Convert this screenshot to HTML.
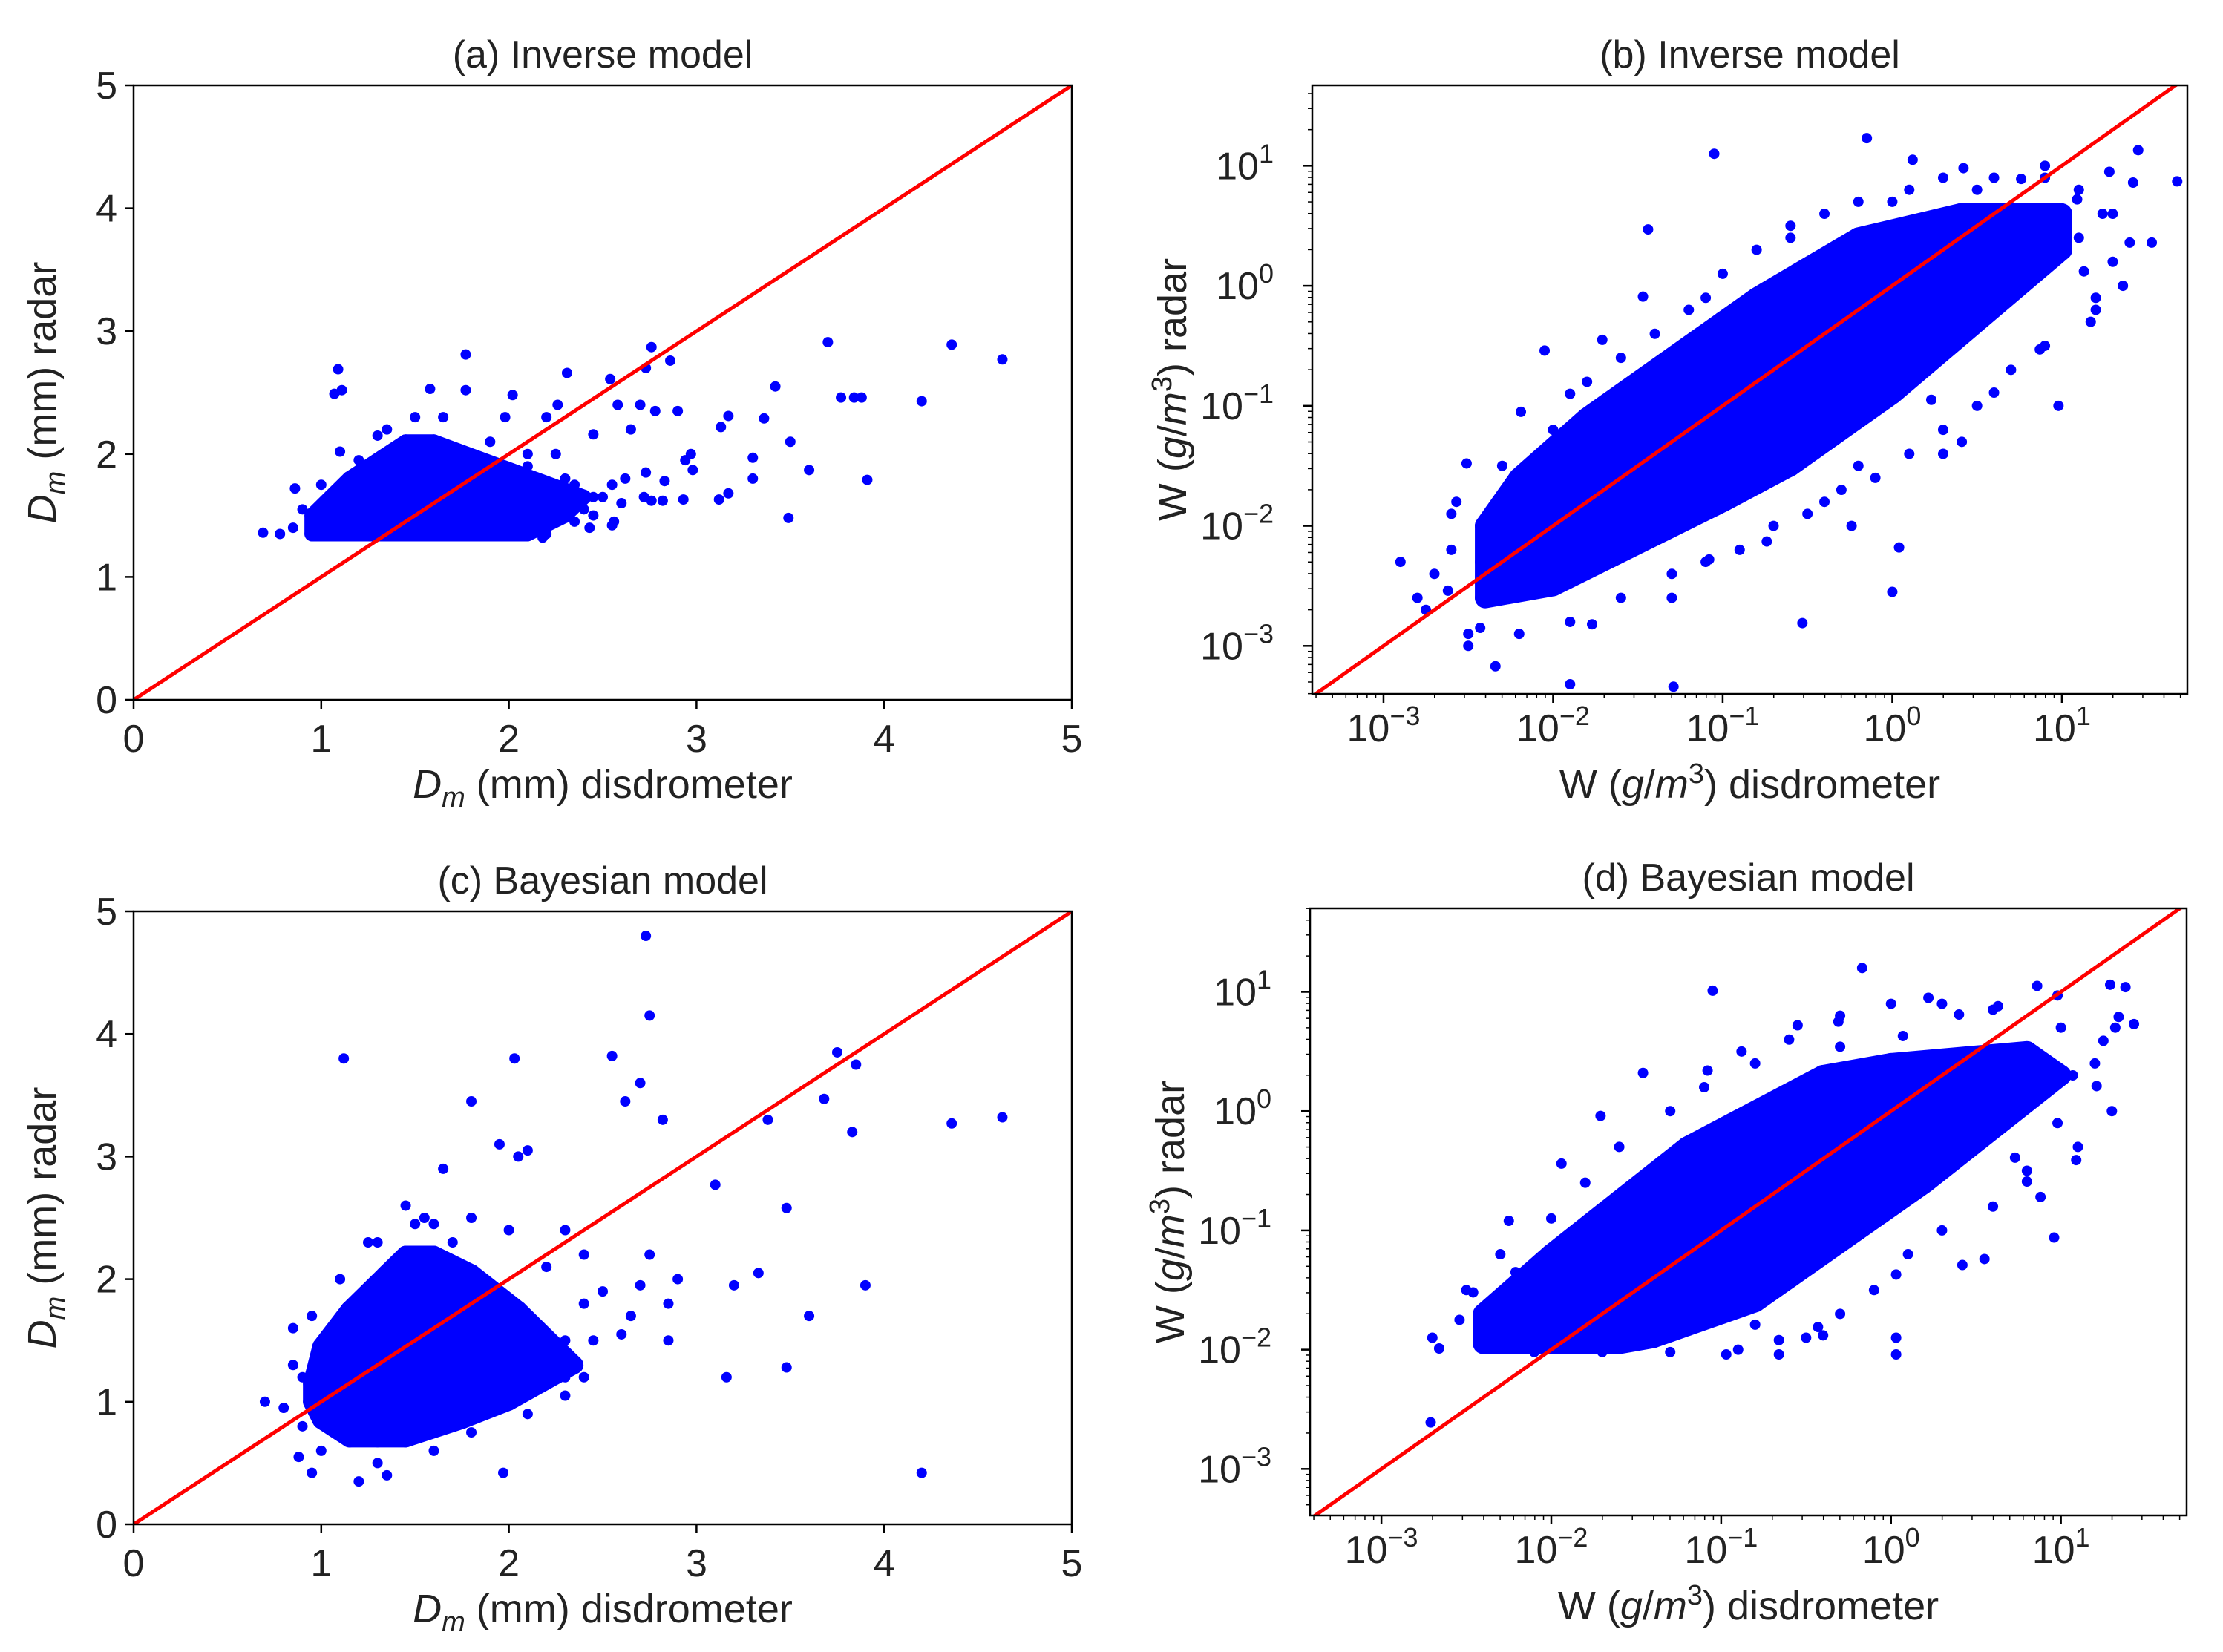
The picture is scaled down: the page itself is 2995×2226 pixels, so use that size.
<!DOCTYPE html>
<html><head><meta charset="utf-8"><style>
html,body{margin:0;padding:0;background:#fff;}
svg{display:block;font-family:"Liberation Sans","DejaVu Sans",sans-serif;}
</style></head><body>
<svg id="fig" width="2995" height="2226" viewBox="0 0 2995 2226" xmlns="http://www.w3.org/2000/svg"></svg>
<script>
// ---------- Panel (a) data (Dm mm) ----------
const aCoreX=[0.95,1.1,1.25,1.4,1.55,1.7,1.85,2.0,2.1, 0.95,1.1,1.25,1.4,1.55,1.7,1.85,2.0,2.15,2.3, 1.05,1.2,1.35,1.5,1.65,1.8,1.95,2.1,2.3,2.4, 1.15,1.3,1.45,1.6,1.75,1.9, 1.3,1.45,1.6,1.75, 1.45,1.6];
const aCoreY=[1.35,1.35,1.35,1.35,1.35,1.35,1.35,1.35,1.35, 1.5,1.5,1.5,1.5,1.5,1.5,1.5,1.5,1.5,1.5, 1.65,1.65,1.65,1.65,1.65,1.65,1.65,1.65,1.65,1.65, 1.8,1.8,1.8,1.8,1.8,1.8, 1.95,1.95,1.95,1.95, 2.1,2.1];
const aX=[1.09,1.07,1.11,1.77,1.58,1.77,2.02,2.31,2.76,2.73,2.86,2.54,2.58,2.70,2.78,2.90,2.45,2.65,2.26,2.20,3.13,3.17,3.36,3.42,3.70,4.36,4.63,3.77,3.84,3.88,4.20,3.50,3.60,3.91,3.49,3.30,3.30,3.17,3.12,2.94,2.97,2.98,2.93,2.72,2.76,2.82,2.83,2.73,2.62,2.55,2.56,2.55,2.6,2.45,2.4,0.69,0.78,0.86,0.85,1.10,1.30,1.98,2.18,2.10,2.25,2.35,2.35,2.43,0.9,1.0,1.2,1.35,1.5,1.65,1.9,2.1,2.3,2.5,2.45,2.2];
const aY=[2.69,2.49,2.52,2.81,2.53,2.52,2.48,2.66,2.87,2.70,2.76,2.61,2.40,2.40,2.35,2.35,2.16,2.20,2.40,2.30,2.22,2.31,2.29,2.55,2.91,2.89,2.77,2.46,2.46,2.46,2.43,2.10,1.87,1.79,1.48,1.97,1.80,1.68,1.63,1.95,2.00,1.87,1.63,1.65,1.62,1.62,1.78,1.85,1.80,1.75,1.45,1.42,1.6,1.65,1.55,1.36,1.35,1.72,1.40,2.02,2.15,2.30,1.32,1.9,2.0,1.75,1.45,1.40,1.55,1.75,1.95,2.2,2.3,2.3,2.1,2.0,1.8,1.65,1.5,1.35];
// ---------- Panel (c) data ----------
const cCoreX=[1.15,1.3,1.45, 1.0,1.15,1.3,1.45,1.6,1.75, 0.95,1.1,1.25,1.4,1.55,1.7,1.85,2.0, 0.95,1.1,1.25,1.4,1.55,1.7,1.85,2.0,2.15, 1.0,1.15,1.3,1.45,1.6,1.75,1.9,2.05,2.2,2.35, 1.0,1.15,1.3,1.45,1.6,1.75,1.9,2.05,2.2, 1.1,1.25,1.4,1.55,1.7,1.85,2.0,2.15, 1.15,1.3,1.45,1.6,1.75,1.9,2.05, 1.3,1.45,1.6,1.75,1.9, 1.35,1.5,1.65,1.8, 1.45,1.6];
const cCoreY=[0.7,0.7,0.7, 0.85,0.85,0.85,0.85,0.85,0.85, 1.0,1.0,1.0,1.0,1.0,1.0,1.0,1.0, 1.15,1.15,1.15,1.15,1.15,1.15,1.15,1.15,1.15, 1.3,1.3,1.3,1.3,1.3,1.3,1.3,1.3,1.3,1.3, 1.45,1.45,1.45,1.45,1.45,1.45,1.45,1.45,1.45, 1.6,1.6,1.6,1.6,1.6,1.6,1.6,1.6, 1.75,1.75,1.75,1.75,1.75,1.75,1.75, 1.9,1.9,1.9,1.9,1.9, 2.05,2.05,2.05,2.05, 2.2,2.2];
const cX=[2.73,2.75,1.12,2.03,2.55,2.7,1.8,2.62,2.82,3.75,3.85,3.68,3.83,4.36,4.63,3.38,3.1,3.48,3.33,3.2,3.9,3.6,3.48,3.16,4.2,1.97,2.7,2.75,2.9,2.85,2.6,2.85,2.65,2.05,2.1,1.95,1.65,0.85,0.7,0.8,0.88,0.95,1.2,1.35,2.3,2.4,2.5,2.3,1.55,1.45,1.6,1.7,1.3,2.3,2.4,0.9,0.85,0.9,1.0,1.3,1.6,1.8,2.1,2.3,2.45,2.4,2.2,2.0,1.8,1.5,1.25,1.1,0.95];
const cY=[4.8,4.15,3.8,3.8,3.82,3.6,3.45,3.45,3.3,3.85,3.75,3.47,3.2,3.27,3.32,3.3,2.77,2.58,2.05,1.95,1.95,1.7,1.28,1.2,0.42,0.42,1.95,2.2,2.0,1.8,1.55,1.5,1.7,3.0,3.05,3.1,2.9,1.6,1.0,0.95,0.55,0.42,0.35,0.4,2.4,2.2,1.9,1.5,2.5,2.6,2.45,2.3,2.3,1.05,1.2,1.2,1.3,0.8,0.6,0.5,0.6,0.75,0.9,1.2,1.5,1.8,2.1,2.4,2.5,2.45,2.3,2.0,1.7];
// ---------- Panel (b) data (log10 W) ----------
const bCoreX=[-2.4,-2.4,-2.4, -2.2,-2.2,-2.2,-2.2, -2.0,-2.0,-2.0,-2.0, -1.8,-1.8,-1.8,-1.8,-1.8, -1.6,-1.6,-1.6,-1.6,-1.6, -1.4,-1.4,-1.4,-1.4,-1.4, -1.2,-1.2,-1.2,-1.2,-1.2, -1.0,-1.0,-1.0,-1.0,-1.0,-1.0, -0.8,-0.8,-0.8,-0.8,-0.8,-0.8, -0.6,-0.6,-0.6,-0.6,-0.6,-0.6, -0.4,-0.4,-0.4,-0.4,-0.4,-0.4, -0.2,-0.2,-0.2,-0.2,-0.2,-0.2, 0,0,0,0,0, 0.2,0.2,0.2,0.2, 0.4,0.4,0.4,0.4, 0.6,0.6,0.6, 0.8,0.8, 1.0,1.0];
const bCoreY=[-2.6,-2.3,-2.0, -2.5,-2.2,-1.9,-1.6, -2.5,-2.2,-1.9,-1.6, -2.3,-2.0,-1.7,-1.4,-1.1, -2.2,-1.9,-1.6,-1.3,-1.0, -2.0,-1.7,-1.4,-1.1,-0.8, -1.9,-1.6,-1.3,-1.0,-0.7, -1.8,-1.5,-1.2,-0.9,-0.6,-0.3, -1.6,-1.3,-1.0,-0.7,-0.4,-0.1, -1.5,-1.2,-0.9,-0.6,-0.3,0.0, -1.3,-1.0,-0.7,-0.4,-0.1,0.2, -1.1,-0.8,-0.5,-0.2,0.1,0.4, -0.9,-0.6,-0.3,0.0,0.3, -0.5,-0.2,0.1,0.4, -0.3,0.0,0.3,0.6, -0.1,0.2,0.5, 0.1,0.4, 0.3,0.6];
const bX=[-1.05,-0.15,0.12,-1.44,-1.47,-1.71,-2.05,-2.19,-2.51,-2.57,-2.62,-2.43,-2.34,-1.9,-1.29,-1.77,-1.08,-0.53,0.0,0.04,0.41,0.6,0.23,0.98,0.87,1.17,1.42,1.28,1.45,1.68,1.53,1.13,0.73,0.4,1.09,0.76,0.42,0.14,-0.66,1.4,1.24,-0.74,-1.52,-0.24,0.77,1.36,-2.7,-2.75,-2.5,-1.3,-0.4,0.3,-1.9,-1.1,-0.6,0.0,0.5,1.2,1.1,0.9,-0.2,
 -2.6,-2.6,-2.3,-2.0,-1.8,-1.6,-1.4,-1.2,-1.0,-0.8,-0.6,-0.4,-0.2,0.1,0.3,0.6,0.9,1.1,1.3,1.3,1.2,0.9,0.7,0.5,0.3,0.1,-0.1,-0.3,-0.5,-0.7,-0.9,-1.1,-1.3,-1.6,-1.9,-2.2,-2.5,-2.8,-2.9];
const bY=[1.1,1.23,1.05,0.47,-0.09,-0.45,-0.54,-1.05,-1.48,-1.8,-2.54,-2.85,-3.17,-3.32,-3.34,-2.82,-2.28,-2.81,-2.55,-2.18,-1.3,-0.89,-0.95,-1.0,-0.53,-0.3,0.86,0.95,1.13,0.87,0.36,0.12,0.42,0.6,0.72,0.89,0.98,0.12,-0.35,0.36,0.6,-2.13,-1.99,-2.0,0.0,0.0,-2.4,-2.7,-2.9,-2.6,-1.8,-1.4,-0.9,-0.1,0.5,0.7,0.8,-0.1,0.4,0.9,-1.5,
 -2.2,-1.9,-1.5,-1.2,-0.8,-0.6,-0.4,-0.2,0.1,0.3,0.4,0.6,0.7,0.8,0.9,0.9,1.0,0.8,0.6,0.2,-0.2,-0.5,-0.7,-1.0,-1.2,-1.4,-1.6,-1.7,-1.9,-2.0,-2.2,-2.3,-2.4,-2.6,-2.8,-2.9,-3.0,-2.6,-2.3];
// ---------- Panel (d) data ----------
const dCoreX=[-2.4,-2.4, -2.2,-2.2,-2.2, -2.0,-2.0,-2.0,-2.0, -1.8,-1.8,-1.8,-1.8, -1.6,-1.6,-1.6,-1.6,-1.6, -1.4,-1.4,-1.4,-1.4,-1.4, -1.2,-1.2,-1.2,-1.2,-1.2,-1.2, -1.0,-1.0,-1.0,-1.0,-1.0,-1.0, -0.8,-0.8,-0.8,-0.8,-0.8,-0.8, -0.6,-0.6,-0.6,-0.6,-0.6,-0.6, -0.4,-0.4,-0.4,-0.4,-0.4,-0.4, -0.2,-0.2,-0.2,-0.2,-0.2, 0,0,0,0,0, 0.2,0.2,0.2,0.2, 0.4,0.4,0.4, 0.6,0.6, 0.8,0.8, 1.0];
const dCoreY=[-1.95,-1.7, -1.95,-1.7,-1.45, -1.95,-1.7,-1.45,-1.2, -1.95,-1.65,-1.35,-1.05, -1.95,-1.65,-1.35,-1.05,-0.75, -1.9,-1.6,-1.3,-1.0,-0.7, -1.8,-1.5,-1.2,-0.9,-0.6,-0.3, -1.7,-1.4,-1.1,-0.8,-0.5,-0.2, -1.6,-1.3,-1.0,-0.7,-0.4,-0.1, -1.4,-1.1,-0.8,-0.5,-0.2,0.1, -1.2,-0.9,-0.6,-0.3,0.0,0.3, -1.0,-0.7,-0.4,-0.1,0.2, -0.8,-0.5,-0.2,0.1,0.4, -0.6,-0.3,0.0,0.3, -0.2,0.1,0.4, 0.0,0.3, 0.2,0.5, 0.3];
const dX=[-2.71,-2.66,-1.94,-1.71,-1.46,-1.05,-1.08,-0.88,-0.55,-0.31,-0.17,-0.3,0.07,0.22,0.4,0.63,0.86,0.98,1.29,1.38,1.43,1.32,1.25,1.21,1.09,0.88,0.96,0.55,0.42,0.03,0.03,0.03,-0.43,-0.4,-0.66,-0.66,-0.97,-0.8,0.8,0.73,0.61,-2.25,-2.21,-2.46,-2.54,-0.39,-0.14,0.28,0.98,1.07,1.34,
 -2.7,-2.5,-2.3,-2.0,-1.8,-1.6,-1.3,-1.1,-0.8,-0.6,-0.3,0.0,0.3,0.6,1.0,1.2,1.3,1.1,0.8,0.6,0.3,0.1,-0.1,-0.3,-0.5,-0.9,-1.3,-1.7,-2.1];
const dY=[-2.61,-1.99,-0.44,-0.04,0.32,1.01,0.34,0.5,0.72,0.75,1.2,0.54,0.63,0.95,0.81,0.88,1.05,0.97,1.06,1.04,0.73,0.7,0.59,0.21,-0.41,-0.72,-1.06,-1.24,-1.29,-1.37,-2.04,-1.9,-1.81,-1.88,-2.04,-1.92,-2.04,-1.79,-0.59,-0.39,-0.1,-0.92,-1.35,-1.52,-1.75,-0.06,0.3,0.25,-0.1,0.3,0.79,
 -1.9,-1.5,-1.2,-0.9,-0.6,-0.3,0.0,0.2,0.4,0.6,0.8,0.9,0.9,0.85,0.7,0.4,0.0,-0.3,-0.5,-0.8,-1.0,-1.2,-1.5,-1.7,-1.9,-2.0,-2.02,-2.02,-2.02];
// ---------- ticks ----------
const linTicks=[0,1,2,3,4,5];
const logTicks=[-3,-2,-1,0,1];

const NS="http://www.w3.org/2000/svg";
const svg=document.getElementById('fig');
function mk(tag,attrs,parent){const e=document.createElementNS(NS,tag);for(const k in attrs)e.setAttribute(k,attrs[k]);(parent||svg).appendChild(e);return e;}
function hull(p){
  p=p.slice().sort((a,b)=>a[0]-b[0]||a[1]-b[1]);
  const cr=(o,a,b)=>(a[0]-o[0])*(b[1]-o[1])-(a[1]-o[1])*(b[0]-o[0]);
  const lo=[],up=[];
  for(const q of p){while(lo.length>=2&&cr(lo[lo.length-2],lo[lo.length-1],q)<=0)lo.pop();lo.push(q);}
  for(let i=p.length-1;i>=0;i--){const q=p[i];while(up.length>=2&&cr(up[up.length-2],up[up.length-1],q)<=0)up.pop();up.push(q);}
  up.pop();lo.pop();return lo.concat(up);
}

function panel(cfg){
  const g=mk('g',{});
  
  
  const L=cfg.L,R=cfg.R,T=cfg.T,B=cfg.B;
  const sx=v=>L+(v-cfg.x0)/(cfg.x1-cfg.x0)*(R-L);
  const sy=v=>B-(v-cfg.y0)/(cfg.y1-cfg.y0)*(B-T);
  const cid='clip-'+cfg.name;
  const defs=mk('defs',{},g);
  const cp=mk('clipPath',{id:cid},defs);
  mk('rect',{x:L,y:T,width:R-L,height:B-T},cp);
  const pts=mk('g',{'clip-path':'url(#'+cid+')'},g);
  
  
  const cp2=[];
  for(let i=0;i<cfg.coreX.length;i++)cp2.push([sx(cfg.coreX[i]),sy(cfg.coreY[i])]);
  const h=hull(cp2);
  const poly=mk('polygon',{points:h.map(p=>p.join(',')).join(' '),fill:'#0000ff',stroke:'#0000ff','stroke-width':2*cfg.coreR,'stroke-linejoin':'round'},pts);
  
  
  for(let i=0;i<cfg.coreX.length;i++){
    const c=mk('circle',{cx:sx(cfg.coreX[i]),cy:sy(cfg.coreY[i]),r:cfg.coreR,fill:'#0000ff'},pts);
    
    
  }
  for(let i=0;i<cfg.px.length;i++){
    const c=mk('circle',{cx:sx(cfg.px[i]),cy:sy(cfg.py[i]),r:7,fill:'#0000ff'},pts);
    
    
  }
  const lo=Math.min(cfg.x0,cfg.y0)-1,hi=Math.max(cfg.x1,cfg.y1)+1;
  const ln=mk('line',{x1:sx(lo),y1:sy(lo),x2:sx(hi),y2:sy(hi),stroke:'#ff0000','stroke-width':5,'clip-path':'url(#'+cid+')'},g);
  
  
  const fr=mk('rect',{x:L,y:T,width:R-L,height:B-T,fill:'none',stroke:'#000','stroke-width':2.5},g);
  
  
  const xt=mk('g',{},g);
  const yt=mk('g',{},g);
  const ticks=cfg.log?logTicks:linTicks;
  ticks.forEach(v=>{
    if(v>=cfg.x0-1e-9&&v<=cfg.x1+1e-9){
      const x=sx(v);
      mk('line',{x1:x,y1:B,x2:x,y2:B+12,stroke:'#000','stroke-width':2.5},xt);
      const t=mk('text',{x:x,y:B+(cfg.log?64:70),'text-anchor':'middle','font-size':52,fill:'#222'},xt);
      
      
      if(cfg.log){t.textContent='10';const s=mk('tspan',{dy:-22,'font-size':36},t);s.textContent=(v<0?'\u2212'+(-v):''+v);}
      else t.textContent=v;
    }
    if(v>=cfg.y0-1e-9&&v<=cfg.y1+1e-9){
      const y=sy(v);
      mk('line',{x1:L-12,y1:y,x2:L,y2:y,stroke:'#000','stroke-width':2.5},yt);
      const t=mk('text',{x:L-22,y:y+18,'text-anchor':'end','font-size':52,fill:'#222'},yt);
      
      
      if(cfg.log){t.textContent='10';const s=mk('tspan',{dy:-22,'font-size':36},t);s.textContent=(v<0?'\u2212'+(-v):''+v);
        t.setAttribute('x',L-52);}
      else t.textContent=v;
    }
  });
  if(cfg.log){
    for(let d=-4;d<=2;d++)for(let m=2;m<=9;m++){
      const v=d+Math.log10(m);
      if(v>cfg.x0&&v<cfg.x1){const x=sx(v);mk('line',{x1:x,y1:B,x2:x,y2:B+6,stroke:'#000','stroke-width':1.5},xt);}
      if(v>cfg.y0&&v<cfg.y1){const y=sy(v);mk('line',{x1:L-6,y1:y,x2:L,y2:y,stroke:'#000','stroke-width':1.5},yt);}
    }
  }
  const tt=mk('text',{x:(L+R)/2,y:T-24,'text-anchor':'middle','font-size':52,fill:'#222'},g);
  tt.textContent=cfg.title;
  
  
  const xl=mk('text',{x:(L+R)/2,y:B+(cfg.log?140:132),'text-anchor':'middle','font-size':54,fill:'#222'},g);
  
  
  const ylx=cfg.log?L-170:L-105;
  const yl=mk('text',{x:0,y:0,transform:`translate(${ylx},${(T+B)/2}) rotate(-90)`,'text-anchor':'middle','font-size':54,fill:'#222'},g);
  
  
  if(cfg.log){
    xl.innerHTML='W (<tspan font-style="italic">g</tspan>/<tspan font-style="italic">m</tspan><tspan dy="-20" font-size="38">3</tspan><tspan dy="20">) disdrometer</tspan>';
    yl.innerHTML='W (<tspan font-style="italic">g</tspan>/<tspan font-style="italic">m</tspan><tspan dy="-20" font-size="38">3</tspan><tspan dy="20">) radar</tspan>';
  }else{
    xl.innerHTML='<tspan font-style="italic">D</tspan><tspan font-style="italic" font-size="38" dy="12">m</tspan><tspan dy="-12"> (mm) disdrometer</tspan>';
    yl.innerHTML='<tspan font-style="italic">D</tspan><tspan font-style="italic" font-size="38" dy="12">m</tspan><tspan dy="-12"> (mm) radar</tspan>';
  }
}
panel({name:'panel-a-inverse-dm',title:'(a) Inverse model',L:180,R:1444,T:115,B:943,x0:0,x1:5,y0:0,y1:5,log:false,coreX:aCoreX,coreY:aCoreY,coreR:10,px:aX,py:aY});
panel({name:'panel-c-bayesian-dm',title:'(c) Bayesian model',L:180,R:1444,T:1228,B:2054,x0:0,x1:5,y0:0,y1:5,log:false,coreX:cCoreX,coreY:cCoreY,coreR:12,px:cX,py:cY});
panel({name:'panel-b-inverse-w',title:'(b) Inverse model',L:1768,R:2947,T:115,B:935,x0:-3.42,x1:1.74,y0:-3.40,y1:1.67,log:true,coreX:bCoreX,coreY:bCoreY,coreR:14,px:bX,py:bY});
panel({name:'panel-d-bayesian-w',title:'(d) Bayesian model',L:1765,R:2946,T:1224,B:2042,x0:-3.42,x1:1.74,y0:-3.39,y1:1.70,log:true,coreX:dCoreX,coreY:dCoreY,coreR:14,px:dX,py:dY});
</script>
</body></html>
